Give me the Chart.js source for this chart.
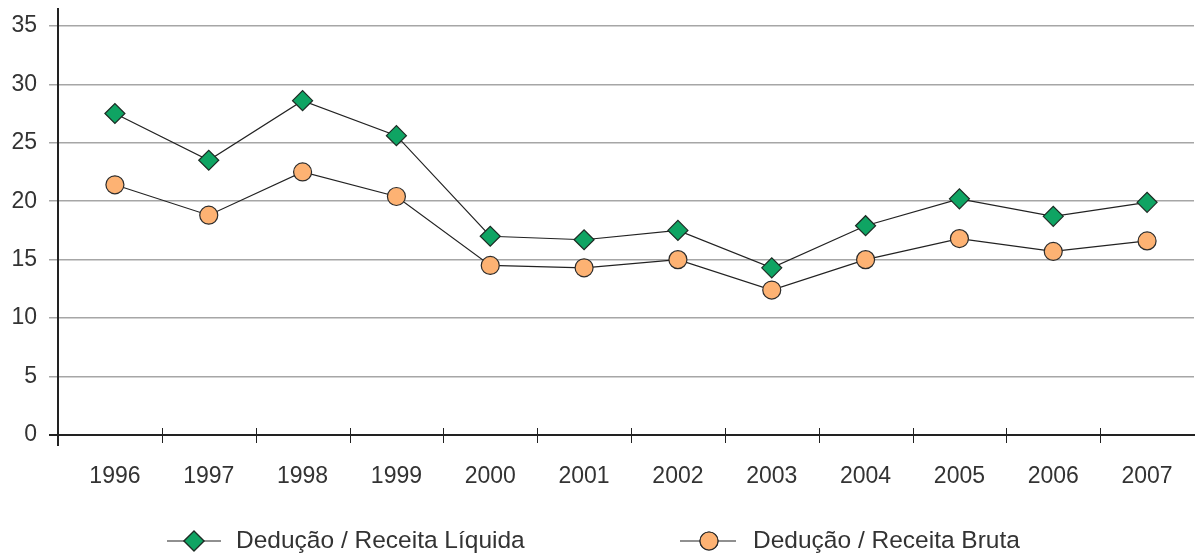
<!DOCTYPE html>
<html>
<head>
<meta charset="utf-8">
<script src="https://cdn.jsdelivr.net/npm/chart.js@4"></script>
<style>
  html, body { margin: 0; padding: 0; background: #fff; }
  #wrap { width: 1195px; height: 554px; position: relative; }
</style>
</head>
<body>
<div id="wrap"><canvas id="chart"></canvas></div>
<script>
// Chart data
const years = ['1996', '1997', '1998', '1999', '2000', '2001', '2002', '2003', '2004', '2005', '2006', '2007'];
const receitaLiquida = [27.5, 23.5, 28.6, 25.6, 17.0, 16.7, 17.5, 14.3, 17.9, 20.2, 18.7, 19.9];
const receitaBruta = [21.4, 18.8, 22.5, 20.4, 14.5, 14.3, 15.0, 12.4, 15.0, 16.8, 15.7, 16.6];
const yTicks = [0, 5, 10, 15, 20, 25, 30, 35];

const labelFont = 'Liberation Sans, Arial, sans-serif';
const textColor = '#333';

// Axis lines, boundary ticks and the legend at the bottom
const decorations = {
    id: 'decorations',
    afterDraw(chart) {
        const ctx = chart.ctx;
        const area = chart.chartArea;
        const x = chart.scales.x;
        ctx.save();
        ctx.strokeStyle = '#222';

        // y axis line
        ctx.lineWidth = 2;
        ctx.beginPath();
        ctx.moveTo(area.left - 10, 8);
        ctx.lineTo(area.left - 10, area.bottom + 11);
        ctx.stroke();

        // x axis line
        ctx.beginPath();
        ctx.moveTo(area.left - 19, area.bottom);
        ctx.lineTo(area.right + 2, area.bottom);
        ctx.stroke();

        // ticks between categories
        ctx.lineWidth = 1;
        for (let i = 1; i < years.length; i++) {
            const px = Math.round((x.getPixelForValue(i - 1) + x.getPixelForValue(i)) / 2) + 0.5;
            ctx.beginPath();
            ctx.moveTo(px, area.bottom - 7);
            ctx.lineTo(px, area.bottom + 8);
            ctx.stroke();
        }

        // legend
        const items = [
            { ds: 0, x: 167, len: 54, mark: 27, text: 69 },
            { ds: 1, x: 680, len: 56, mark: 29, text: 73 }
        ];
        const ly = 541;
        ctx.font = '24.5px ' + labelFont;
        ctx.textBaseline = 'middle';
        items.forEach(item => {
            const ds = chart.data.datasets[item.ds];
            ctx.strokeStyle = '#222';
            ctx.lineWidth = 1.2;
            ctx.beginPath();
            ctx.moveTo(item.x, ly);
            ctx.lineTo(item.x + item.len, ly);
            ctx.stroke();
            ctx.fillStyle = ds.pointBackgroundColor;
            ctx.strokeStyle = ds.pointBorderColor;
            Chart.helpers.drawPoint(ctx, {
                pointStyle: ds.pointStyle,
                radius: ds.pointRadius,
                borderWidth: 1.2
            }, item.x + item.mark, ly);
            ctx.fill();
            ctx.stroke();
            ctx.fillStyle = textColor;
            ctx.fillText(ds.label, item.x + item.text, ly);
        });
        ctx.restore();
    }
};

const ctx = document.getElementById('chart').getContext('2d');
new Chart(ctx, {
    type: 'line',
    data: {
        labels: years,
        datasets: [
            {
                label: 'Dedução / Receita Líquida',
                data: receitaLiquida,
                borderColor: '#222',
                borderWidth: 1.2,
                pointStyle: 'rectRot',
                pointRadius: 10,
                pointBackgroundColor: '#0fa463',
                pointBorderColor: '#1d2b24',
                pointBorderWidth: 1.2,
                tension: 0,
                clip: false
            },
            {
                label: 'Dedução / Receita Bruta',
                data: receitaBruta,
                borderColor: '#222',
                borderWidth: 1.2,
                pointStyle: 'circle',
                pointRadius: 9,
                pointBackgroundColor: '#fdb273',
                pointBorderColor: '#2b2b2b',
                pointBorderWidth: 1.2,
                tension: 0,
                clip: false
            }
        ]
    },
    options: {
        responsive: true,
        maintainAspectRatio: false,
        animation: false,
        layout: { autoPadding: false, padding: { top: 22, right: 1, left: 0, bottom: 0 } },
        plugins: {
            legend: { display: false },
            tooltip: { enabled: false }
        },
        scales: {
            x: {
                offset: true,
                border: { display: false },
                grid: { display: false, drawTicks: false },
                ticks: {
                    padding: 28,
                    color: textColor,
                    font: { family: labelFont, size: 23 }
                },
                afterFit(scale) {
                    scale.height = 119;
                    scale.paddingLeft = 0;
                    scale.paddingRight = 0;
                }
            },
            y: {
                min: 0,
                max: 35,
                border: { display: false },
                afterBuildTicks(scale) { scale.ticks = yTicks.map(v => ({ value: v })); },
                grid: {
                    color: '#a6a6a6',
                    lineWidth: 1.5,
                    tickLength: 19
                },
                ticks: {
                    padding: 12,
                    color: textColor,
                    font: { family: labelFont, size: 23 }
                },
                afterFit(scale) { scale.width = 68; }
            }
        }
    },
    plugins: [decorations]
});
</script>
</body>
</html>
